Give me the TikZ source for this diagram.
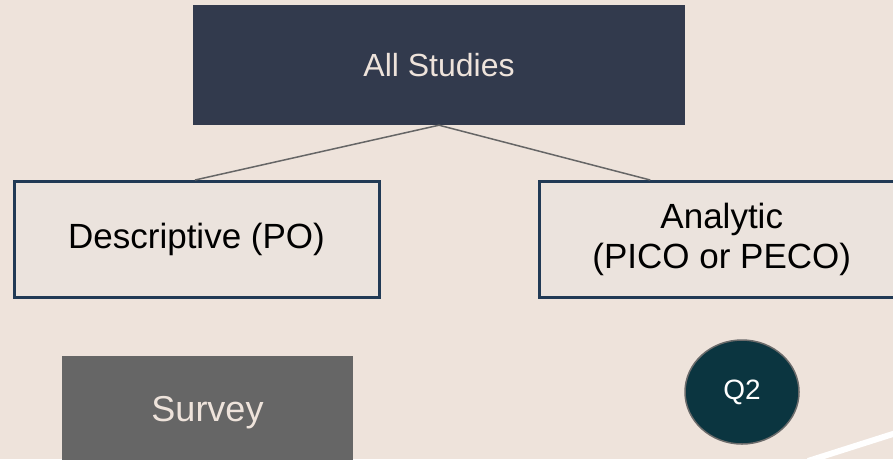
\documentclass[tikz,border=0pt]{standalone}
\usepackage{fontspec}
\setmainfont{Liberation Sans}
\usetikzlibrary{shapes.geometric,calc}
\definecolor{bg}{HTML}{EEE3DB}
\definecolor{topfill}{HTML}{323A4D}
\definecolor{boxfill}{HTML}{EBE3DD}
\definecolor{boxborder}{HTML}{213A55}
\definecolor{linkgray}{HTML}{666666}
\definecolor{surveyfill}{HTML}{666666}
\definecolor{qfill}{HTML}{0B3540}
\definecolor{qborder}{HTML}{6B6B6B}
\definecolor{lighttext}{HTML}{EEE3DB}
\tikzset{
  topbox/.style={fill=topfill, draw=none, text=lighttext, minimum width=492pt, minimum height=120pt, inner sep=0pt, font=\fontsize{32}{38}\selectfont},
  catbox/.style={fill=boxfill, draw=boxborder, line width=3pt, text=black, minimum width=365pt, minimum height=116pt, inner sep=0pt, align=center, font=\fontsize{35}{40}\selectfont},
  surveybox/.style={fill=surveyfill, draw=none, text=lighttext, minimum width=291pt, minimum height=114pt, inner sep=0pt, font=\fontsize{36}{40}\selectfont},
  qcircle/.style={ellipse, fill=qfill, draw=qborder, line width=1.5pt, text=white, minimum width=114pt, minimum height=104pt, inner sep=0pt, font=\fontsize{28}{32}\selectfont},
  link/.style={draw=linkgray, line width=1.5pt},
}
\begin{document}
\begin{tikzpicture}[x=1pt,y=-1pt]
\useasboundingbox (0,0) rectangle (893,459);
\clip (0,0) rectangle (893,459);
\fill[bg] (0,0) rectangle (893,459);
\node[topbox] (top) at (439,65) {All Studies};
\node[catbox] (desc) at (196.5,239.5) {Descriptive (PO)};
\node[catbox] (ana) at (721.75,239.5) {Analytic\\(PICO or PECO)};
\node[surveybox] (survey) at (207.5,413) {Survey};
\node[qcircle] (q2) at (742,392) {Q2};
\coordinate (rend) at ($(ana.north west)+(112.5,0)$);
\coordinate (lend) at ($(desc.north)+(-1.5,0)$);
\draw[link] (top.south) -- (lend);
\draw[link] (top.south) -- (rend);
\coordinate (wa) at (808,461);
\coordinate (wb) at (896,433);
\draw[white, line width=6pt] (wa) -- (wb);
\end{tikzpicture}
\end{document}
